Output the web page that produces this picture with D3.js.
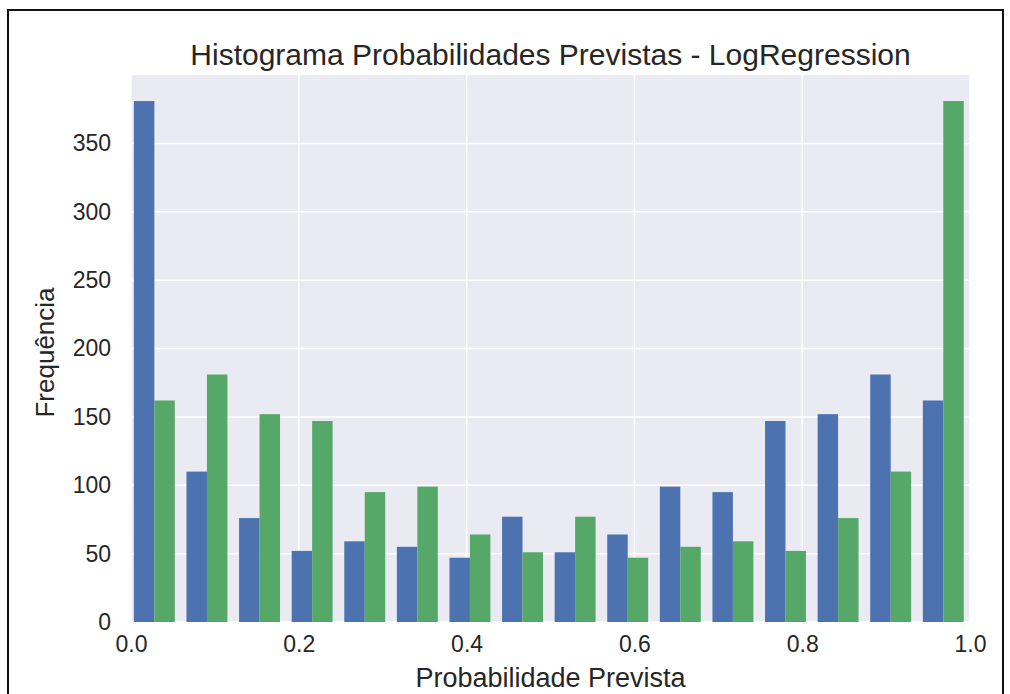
<!DOCTYPE html>
<html>
<head>
<meta charset="utf-8">
<script src="https://cdn.jsdelivr.net/npm/d3@7/dist/d3.min.js"></script>
<style>
  body { margin: 0; background: #fff; }
  text { font-family: "Liberation Sans", Arial, sans-serif; fill: #262626; }
</style>
</head>
<body>
<div id="chart"></div>
<script>
// counts per bin (16 bins)
var blueCounts  = [381, 110, 76, 52, 59, 55, 47, 77, 51, 64, 99, 95, 147, 152, 181, 162];
var greenCounts = [162, 181, 152, 147, 95, 99, 64, 51, 77, 47, 55, 59, 52, 76, 110, 381];
var binLo = -0.0035, binHi = 0.9995;
var xTicks = [0.0, 0.2, 0.4, 0.6, 0.8, 1.0];
var yTicks = [0, 50, 100, 150, 200, 250, 300, 350];
var yMax = 400.05;

var all_width = 1010, all_height = 694;
var margin = {top: 75, right: 40, bottom: 72, left: 131},
    width = 970 - margin.left,
    height = 622 - margin.top;

var svg = d3.select("#chart")
  .append("svg")
    .attr("width", all_width)
    .attr("height", all_height);

// outer frame
svg.append("rect")
  .attr("x", 8).attr("y", 10)
  .attr("width", 995).attr("height", 700)
  .attr("fill", "none")
  .attr("stroke", "#111")
  .attr("stroke-width", 2);

var g = svg.append("g")
  .attr("transform", "translate(" + margin.left + "," + margin.top + ")");

var x = d3.scaleLinear().domain([0, 1]).range([0, width]);
var y = d3.scaleLinear().domain([0, yMax]).range([height, 0]);

// background
g.append("rect")
  .attr("width", width).attr("height", height)
  .attr("fill", "#EAEAF2");

// grid
g.selectAll(".vgrid").data(xTicks).enter().append("line")
  .attr("x1", function(d) { return x(d); })
  .attr("x2", function(d) { return x(d); })
  .attr("y1", 0).attr("y2", height)
  .attr("stroke", "#fff").attr("stroke-width", 1.5);
g.selectAll(".hgrid").data(yTicks).enter().append("line")
  .attr("x1", 0).attr("x2", width)
  .attr("y1", function(d) { return y(d); })
  .attr("y2", function(d) { return y(d); })
  .attr("stroke", "#fff").attr("stroke-width", 1.5);

// bars
var nBins = blueCounts.length;
var w = (binHi - binLo) / nBins;
var off = 0.111;
var bins = d3.range(nBins).map(function(i) {
  return {left: binLo + i * w, blue: blueCounts[i], green: greenCounts[i]};
});

g.selectAll(".blue").data(bins).enter().append("rect")
  .attr("x", function(d) { return x(d.left + off * w); })
  .attr("width", function(d) { return x(d.left + 0.5 * w) - x(d.left + off * w); })
  .attr("y", function(d) { return y(d.blue); })
  .attr("height", function(d) { return y(0) - y(d.blue); })
  .attr("fill", "#4C72B0");

g.selectAll(".green").data(bins).enter().append("rect")
  .attr("x", function(d) { return x(d.left + 0.5 * w); })
  .attr("width", function(d) { return x(d.left + (1 - off) * w) - x(d.left + 0.5 * w); })
  .attr("y", function(d) { return y(d.green); })
  .attr("height", function(d) { return y(0) - y(d.green); })
  .attr("fill", "#55A868");

// axes (labels only, no tick marks)
var xAxis = g.append("g")
  .attr("transform", "translate(0," + height + ")")
  .call(d3.axisBottom(x).tickValues(xTicks).tickFormat(d3.format(".1f")).tickSize(0).tickPadding(14));
xAxis.select(".domain").remove();
xAxis.selectAll("text").style("font-size", "23px").attr("fill", "#262626");

var yAxis = g.append("g")
  .call(d3.axisLeft(y).tickValues(yTicks).tickSize(0).tickPadding(20));
yAxis.select(".domain").remove();
yAxis.selectAll("text").style("font-size", "23px").attr("fill", "#262626");

// titles
svg.append("text")
  .attr("x", margin.left + width / 2)
  .attr("y", 65)
  .attr("text-anchor", "middle")
  .style("font-size", "30px")
  .text("Histograma Probabilidades Previstas - LogRegression");

svg.append("text")
  .attr("x", margin.left + width / 2)
  .attr("y", 687)
  .attr("text-anchor", "middle")
  .style("font-size", "27px")
  .text("Probabilidade Prevista");

svg.append("text")
  .attr("transform", "translate(54," + (margin.top + height / 2 + 4) + ") rotate(-90)")
  .attr("text-anchor", "middle")
  .style("font-size", "26px")
  .text("Frequência");
</script>
</body>
</html>
